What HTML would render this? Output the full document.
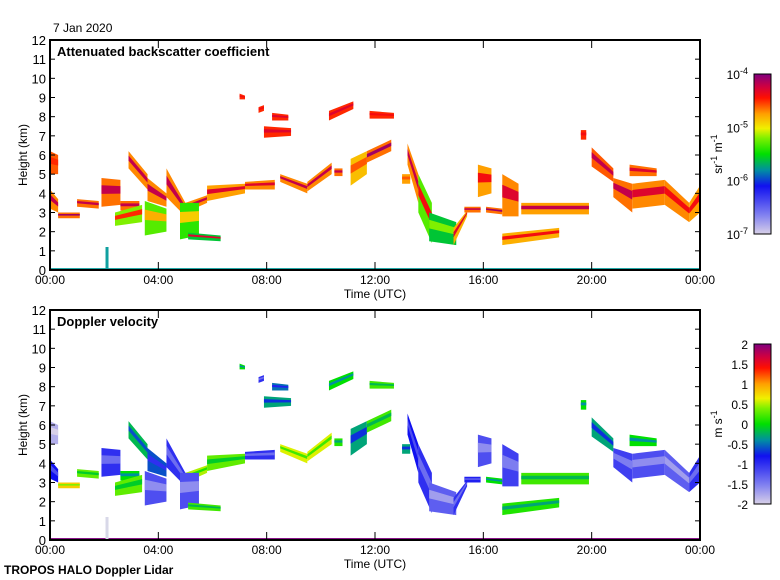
<!DOCTYPE html>
<html><head><meta charset="utf-8"><style>
html,body{margin:0;padding:0;background:#fff;}
svg{display:block;font-family:"Liberation Sans",sans-serif;}
</style></head><body>
<svg id="chart" width="780" height="580" viewBox="0 0 780 580">
<defs>
<linearGradient id="gBeta" x1="0" y1="1" x2="0" y2="0">
<stop offset="0" stop-color="#d8d0e8"/><stop offset="0.12" stop-color="#8080f0"/><stop offset="0.3" stop-color="#1010f0"/><stop offset="0.4" stop-color="#0090a0"/><stop offset="0.5" stop-color="#00e000"/><stop offset="0.6" stop-color="#80f000"/><stop offset="0.66" stop-color="#f0f000"/><stop offset="0.75" stop-color="#ffa000"/><stop offset="0.85" stop-color="#ff1000"/><stop offset="0.92" stop-color="#d00040"/><stop offset="1" stop-color="#800080"/>
</linearGradient>
</defs>
<g id="top-panel"></g>
<g id="bot-panel"></g>
<text x="53" y="32" font-size="12">7 Jan 2020</text>
<text x="4" y="574" font-size="12" font-weight="bold">TROPOS HALO Doppler Lidar</text>
</svg>
<script>
// patch data: time start/end (h), base/top at start, base/top at end (km)
const t0s=[0,0,0.3,1.0,1.9,2.6,2.4,2.9,3.6,3.5,4.3,5.0,4.8,5.1,5.8,7.2,8.5,9.5,10.5,11.1,11.7,7.0,7.7,8.2,7.9,10.3,11.8,13.0,13.2,13.6,14.0,14.9,15.3,15.8,16.1,16.7,17.4,16.7,19.6,20.0,20.8,21.5,21.4,22.7,23.6];
const t1s=[0.3,0.3,1.1,1.8,2.6,3.3,3.4,3.6,4.3,4.3,5.0,5.8,5.5,6.3,7.2,8.3,9.5,10.4,10.8,11.7,12.6,7.2,7.9,8.8,8.9,11.2,12.7,13.3,13.6,14.1,15.0,15.4,15.9,16.3,16.7,17.3,19.9,18.8,19.8,20.8,21.5,22.7,22.4,23.6,24];
const base0=[3.2,5.0,2.7,3.3,3.3,3.1,2.3,5.3,3.6,1.8,3.8,3.0,1.6,1.6,3.6,4.2,4.6,4.1,4.9,4.4,5.6,8.9,8.2,7.8,6.9,7.8,7.9,4.5,5.5,3.0,1.5,1.3,3.0,3.8,3.0,2.8,2.9,1.3,6.8,5.4,3.8,3.2,4.9,3.4,2.5];
const top0=[4.2,6.2,3.0,3.7,4.8,3.6,3.0,6.2,4.8,3.6,5.3,3.5,3.5,1.95,4.4,4.6,5.0,4.6,5.3,5.8,6.2,9.2,8.5,8.2,7.5,8.3,8.3,5.0,6.6,5.0,3.0,2.2,3.3,5.5,3.3,5.0,3.5,1.9,7.3,6.4,4.8,4.5,5.5,4.7,3.5];
const base1=[3.0,5.0,2.7,3.2,3.4,3.1,2.5,4.2,3.3,2.0,2.8,3.5,1.8,1.5,4.0,4.2,4.0,5.0,4.9,5.0,6.2,8.9,8.3,7.8,7.0,8.4,7.9,4.5,3.5,1.4,1.3,2.8,3.0,4.0,2.9,2.8,2.9,1.7,6.8,4.6,3.0,3.4,4.9,2.5,3.0];
const top1=[3.7,6.0,3.0,3.6,4.7,3.6,3.4,5.0,4.0,3.2,3.5,3.9,3.5,1.8,4.5,4.7,4.5,5.6,5.3,6.2,6.8,9.1,8.6,8.1,7.4,8.8,8.2,5.0,5.0,3.5,2.5,3.1,3.3,5.3,3.2,4.5,3.5,2.2,7.3,5.3,4.5,4.7,5.3,3.5,4.4];
// log10 backscatter (edge and core) and Doppler velocity (m/s)
const betaEdge=[-4.7,-4.6,-4.65,-4.65,-4.65,-4.65,-5.2,-4.7,-4.7,-5.3,-4.7,-4.7,-5.4,-5.6,-4.75,-4.7,-4.7,-4.7,-4.65,-4.85,-4.65,-4.5,-4.5,-4.5,-4.5,-4.5,-4.5,-4.75,-4.7,-5.3,-5.6,-4.8,-4.65,-4.75,-4.65,-4.7,-4.75,-4.8,-4.5,-4.6,-4.65,-4.7,-4.65,-4.7,-4.75];
const betaCore=[-4.2,-4.5,-4.1,-4.2,-4.2,-4.2,-4.5,-4.2,-4.2,-4.8,-4.2,-4.2,-4.9,-4.3,-4.3,-4.3,-4.2,-4.2,-4.2,-4.6,-4.1,-4.4,-4.4,-4.3,-4.3,-4.3,-4.4,-4.6,-4.2,-4.4,-5.2,-4.3,-4.2,-4.4,-4.1,-4.3,-4.2,-4.4,-4.4,-4.2,-4.2,-4.3,-4.3,-4.4,-4.4];
const vel=[-0.8,-1.8,0.8,0.3,-1.0,0,0.3,-0.2,-0.6,-1.2,-1.0,0.5,-1.2,0.2,0.3,-1.0,0.6,0.6,0.1,-0.3,0.2,0,-1.0,-0.5,-0.3,0,0.2,-0.3,-0.8,-1.0,-1.3,-1.0,-0.9,-1.2,0,-1.1,0.2,0.1,0,-0.3,-1.1,-1.2,0,-1.3,-1.0];
const hTicks=[0,1,2,3,4,5,6,7,8,9,10,11,12];
const timeTicks=[0,4,8,12,16,20,24];
const timeLabels=["00:00","04:00","08:00","12:00","16:00","20:00","00:00"];
const betaTicks=["-4","-5","-6","-7"];
const velTicks=["2","1.5","1","0.5","0","-0.5","-1","-1.5","-2"];

const NS="http://www.w3.org/2000/svg";
const X0=50,X1=700;
function xS(t){return X0+(X1-X0)*t/24;}
function yS(h,top){return top+230-230*h/12;}
function mk(tag,at,parent){const e=document.createElementNS(NS,tag);for(const k in at)e.setAttribute(k,at[k]);parent.appendChild(e);return e;}
const stops=[[0,[216,208,232]],[0.12,[128,128,240]],[0.3,[16,16,240]],[0.4,[0,144,160]],[0.5,[0,224,0]],[0.6,[128,240,0]],[0.66,[240,240,0]],[0.75,[255,160,0]],[0.85,[255,16,0]],[0.92,[208,0,64]],[1,[128,0,128]]];
function cmap(f){f=Math.max(0,Math.min(1,f));for(let i=1;i<stops.length;i++){if(f<=stops[i][0]){const a=stops[i-1],b=stops[i];const u=(f-a[0])/(b[0]-a[0]);const c=a[1].map((v,j)=>Math.round(v+(b[1][j]-v)*u));return `rgb(${c})`;}}return "rgb(128,0,128)";}
function betaColor(v){return cmap((v+7)/3);}
function velColor(v){return cmap((v+2)/4);}

function panel(g,top,title,isVel){
  const gr=mk("rect",{x:xS(0),y:yS(0.1,top),width:xS(24)-xS(0),height:yS(0,top)-yS(0.1,top),fill:isVel?"#800080":"#10a0a0"},g);
  
  
  const sp=mk("rect",{x:xS(2.05),y:yS(1.2,top),width:3,height:yS(0,top)-yS(1.2,top),fill:isVel?"#d8d8e8":"#10a0a0"},g);
  
  
  for(let i=0;i<t0s.length;i++){
    const xa=xS(t0s[i]),xb=xS(t1s[i]);
    const pts=`${xa},${yS(base0[i],top)} ${xb},${yS(base1[i],top)} ${xb},${yS(top1[i],top)} ${xa},${yS(top0[i],top)}`;
    const p=mk("polygon",{points:pts,fill:isVel?velColor(vel[i]):betaColor(betaEdge[i])},g);
    
    
    const f=(b,t,a)=>b+(t-b)*a;
    const cpts=`${xa},${yS(f(base0[i],top0[i],0.45),top)} ${xb},${yS(f(base1[i],top1[i],0.45),top)} ${xb},${yS(f(base1[i],top1[i],0.75),top)} ${xa},${yS(f(base0[i],top0[i],0.75),top)}`;
    const c=mk("polygon",{points:cpts,fill:isVel?velColor(vel[i]-0.4):betaColor(betaCore[i])},g);
    
    
  }
  const fr=mk("rect",{x:X0,y:top,width:X1-X0,height:230,fill:"none",stroke:"#000","stroke-width":2},g);
  
  
  hTicks.forEach(h=>{
    const y=yS(h,top);
    mk("line",{x1:X0,x2:X0+5,y1:y,y2:y,stroke:"#000"},g);
    mk("line",{x1:X1-5,x2:X1,y1:y,y2:y,stroke:"#000"},g);
    const t=mk("text",{x:X0-4,y:y+5,"font-size":13,"text-anchor":"end"},g);
    t.textContent=h;
    
    
  });
  timeTicks.forEach((tt,i)=>{
    const x=xS(tt);
    mk("line",{x1:x,x2:x,y1:top+230,y2:top+222,stroke:"#000"},g);
    mk("line",{x1:x,x2:x,y1:top,y2:top+8,stroke:"#000"},g);
    const t=mk("text",{x:x,y:top+244,"font-size":12,"text-anchor":"middle"},g);
    t.textContent=timeLabels[i];
    
    
  });
  const xt=mk("text",{x:375,y:top+258,"font-size":12,"text-anchor":"middle"},g);
  xt.textContent="Time (UTC)";
  
  
  const yt=mk("text",{x:0,y:0,"font-size":12,"text-anchor":"middle",transform:`translate(27,${top+115}) rotate(-90)`},g);
  yt.textContent="Height (km)";
  
  
  const tl=mk("text",{x:57,y:top+16,"font-size":13,"font-weight":"bold"},g);
  tl.textContent=title;
  
  
  const cb=mk("rect",{x:754,y:top+34,width:17,height:160,fill:"url(#gBeta)",stroke:"#000"},g);
  
  
  const labs=isVel?velTicks:betaTicks;
  labs.forEach((l,i)=>{
    const y=top+34+160*i/(labs.length-1);
    const t=mk("text",{x:748,y:y+5,"font-size":12,"text-anchor":"end"},g);
    if(isVel){t.textContent=l;}
    else{t.textContent="10";const s=mk("tspan",{"font-size":9,dy:-5},t);s.textContent=l;}
    
    
  });
  const ut=mk("text",{x:0,y:0,"font-size":12,"text-anchor":"middle",transform:`translate(722,${top+114}) rotate(-90)`},g);
  if(isVel){ut.textContent="m s";const s=mk("tspan",{"font-size":9,dy:-5},ut);s.textContent="-1";}
  else{ut.textContent="sr";const s=mk("tspan",{"font-size":9,dy:-5},ut);s.textContent="-1";const s2=mk("tspan",{dy:5},ut);s2.textContent=" m";const s3=mk("tspan",{"font-size":9,dy:-5},ut);s3.textContent="-1";}
  
  
}
panel(document.getElementById("top-panel"),40,"Attenuated backscatter coefficient",false);
panel(document.getElementById("bot-panel"),310,"Doppler velocity",true);
</script>
</body></html>
